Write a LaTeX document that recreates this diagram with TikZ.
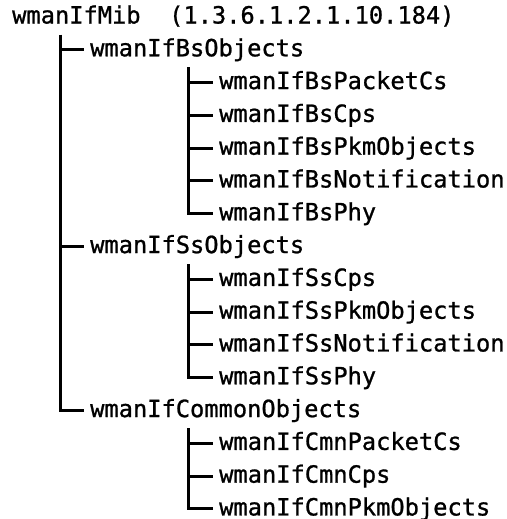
\documentclass[tikz,border=0pt]{standalone}
\usepackage{fontspec}
\newfontfamily\treefont{DejaVu Sans Mono}[FakeBold=1]
\usetikzlibrary{positioning}
\tikzset{entry/.style={anchor=west,inner xsep=6bp,inner ysep=0pt,
    text height=19bp,text depth=6bp,font=\treefont\fontsize{23.7bp}{28bp}\selectfont},
  branch/.style={line width=3bp},
}

\begin{document}
\begin{tikzpicture}[node distance=7.4bp]
	\useasboundingbox (0,0) rectangle (507bp,-519bp);
	\node[entry] (mib) at (6bp,-17bp) {wmanIfMib\ \ (1.3.6.1.2.1.10.184)};
	% first level
	\node[entry] (bsobj)[below=of mib.south west,anchor=north west,xshift=78bp]{wmanIfBsObjects};
	\node[entry] (bspkt)[below=of bsobj.south west,anchor=north west,xshift=129bp]{wmanIfBsPacketCs};
	\node[entry] (bscps)[below=of bspkt.south west,anchor=north west]{wmanIfBsCps};
	\node[entry] (bspkm)[below=of bscps.south west,anchor=north west]{wmanIfBsPkmObjects};
	\node[entry] (bsnot)[below=of bspkm.south west,anchor=north west]{wmanIfBsNotification};
	\node[entry] (bsphy)[below=of bsnot.south west,anchor=north west]{wmanIfBsPhy};
	\node[entry] (ssobj)[below=of bsphy.south west,anchor=north west,xshift=-129bp]{wmanIfSsObjects};
	\node[entry] (sscps)[below=of ssobj.south west,anchor=north west,xshift=129bp]{wmanIfSsCps};
	\node[entry] (sspkm)[below=of sscps.south west,anchor=north west]{wmanIfSsPkmObjects};
	\node[entry] (ssnot)[below=of sspkm.south west,anchor=north west]{wmanIfSsNotification};
	\node[entry] (ssphy)[below=of ssnot.south west,anchor=north west]{wmanIfSsPhy};
	\node[entry] (cmnobj)[below=of ssphy.south west,anchor=north west,xshift=-129bp]{wmanIfCommonObjects};
	\node[entry] (cmnpkt)[below=of cmnobj.south west,anchor=north west,xshift=129bp]{wmanIfCmnPacketCs};
	\node[entry] (cmncps)[below=of cmnpkt.south west,anchor=north west]{wmanIfCmnCps};
	\node[entry] (cmnpkm)[below=of cmncps.south west,anchor=north west]{wmanIfCmnPkmObjects};
	
	% tree lines
	\path[branch,draw]
	([shift={(54bp,-5bp)}]mib.south west) |- (bsobj.west)
	([shift={(54bp,-5bp)}]mib.south west) |- (ssobj.west)
	([shift={(54bp,-5bp)}]mib.south west) |- (cmnobj.west)
	([shift={(104bp,-5bp)}]bsobj.south west) |- (bspkt.west)
	([shift={(104bp,-5bp)}]bsobj.south west) |- (bscps.west)
	([shift={(104bp,-5bp)}]bsobj.south west) |- (bspkm.west)
	([shift={(104bp,-5bp)}]bsobj.south west) |- (bsnot.west)
	([shift={(104bp,-5bp)}]bsobj.south west) |- (bsphy.west)
	([shift={(104bp,-5bp)}]ssobj.south west) |- (sscps.west)
	([shift={(104bp,-5bp)}]ssobj.south west) |- (sspkm.west)
	([shift={(104bp,-5bp)}]ssobj.south west) |- (ssnot.west)
	([shift={(104bp,-5bp)}]ssobj.south west) |- (ssphy.west)
	([shift={(104bp,-5bp)}]cmnobj.south west) |- (cmnpkt.west)
	([shift={(104bp,-5bp)}]cmnobj.south west) |- (cmncps.west)
	([shift={(104bp,-5bp)}]cmnobj.south west) |- (cmnpkm.west);
\end{tikzpicture}
\end{document}
